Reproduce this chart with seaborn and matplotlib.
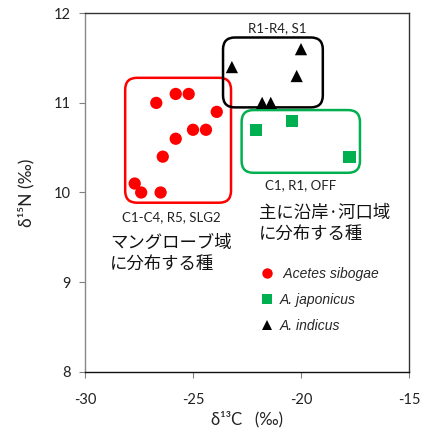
import matplotlib
matplotlib.use("Agg")
import matplotlib.pyplot as plt
from matplotlib.patches import FancyBboxPatch
from matplotlib.lines import Line2D
import seaborn as sns
import pandas as pd

# Stable isotope values (per mil) for each species
sibogae_c = [-26.7, -25.8, -25.2, -23.9, -25.0, -24.4, -25.8, -26.4, -27.7, -27.4, -26.5]
sibogae_n = [11.0, 11.1, 11.1, 10.9, 10.7, 10.7, 10.6, 10.4, 10.1, 10.0, 10.0]
japonicus_c = [-22.1, -20.4, -17.75]
japonicus_n = [10.7, 10.8, 10.4]
indicus_c = [-20.0, -23.2, -20.2, -21.8, -21.4]
indicus_n = [11.6, 11.4, 11.3, 11.0, 11.0]

species = ["Acetes sibogae", "A. japonicus", "A. indicus"]
colors = ["#FF0000", "#00B050", "#000000"]
markers = ["o", "s", "^"]

x_ticks = [-30, -25, -20, -15]
y_ticks = [8, 9, 10, 11, 12]

df = pd.DataFrame({
    "d13C": sibogae_c + japonicus_c + indicus_c,
    "d15N": sibogae_n + japonicus_n + indicus_n,
    "species": [species[0]] * len(sibogae_c) + [species[1]] * len(japonicus_c)
               + [species[2]] * len(indicus_c),
})

sns.set_theme(style="white")
plt.rcParams["font.family"] = ["Lato", "DejaVu Sans"]
plt.rcParams["axes.unicode_minus"] = False

fig = plt.figure(figsize=(4.24, 4.32), dpi=100)
ax = fig.add_axes([0.2005, 0.1396, 0.7641, 0.8296])

sns.scatterplot(data=df, x="d13C", y="d15N", hue="species", style="species",
                palette=dict(zip(species, colors)), markers=dict(zip(species, markers)),
                s=78, linewidth=0, legend=False, ax=ax, zorder=3)

ax.set_xlim(-30, -15)
ax.set_ylim(8, 12)
ax.set_xticks(x_ticks)
ax.set_yticks(y_ticks)
ax.set_xticklabels([str(v) for v in x_ticks])
ax.set_yticklabels([str(v) for v in y_ticks])
ax.tick_params(axis="both", direction="out", length=4, width=0.8, color="#808080",
               labelsize=10.5, labelcolor="#222222", bottom=True, left=True)
ax.tick_params(axis="x", pad=11)
ax.tick_params(axis="y", pad=6)

for side in ["top", "right"]:
    ax.spines[side].set_color("#333333")
    ax.spines[side].set_linewidth(1.0)
ax.spines["bottom"].set_color("#111111")
ax.spines["bottom"].set_linewidth(1.0)
ax.spines["left"].set_color("#888888")
ax.spines["left"].set_linewidth(1.0)

ax.set_xlabel("δ¹³C   (‰)", fontsize=12, color="#222222", labelpad=3)
ax.set_ylabel("δ¹⁵N (‰)", fontsize=12.5, color="#222222", labelpad=14)

# Rounded group outlines (radius expressed in x units, aspect maps it to y)
aspect = (4 / 358.4) / (15 / 324)
groups = [
    ((-28.14, 9.886), 4.90, 1.394, "#FF0000"),
    ((-23.61, 10.95), 4.62, 0.78, "#000000"),
    ((-22.75, 10.22), 5.48, 0.70, "#00B050"),
]
for (x0, y0), w, h, col in groups:
    ax.add_patch(FancyBboxPatch((x0, y0), w, h, boxstyle="round,pad=0,rounding_size=0.55",
                                mutation_aspect=aspect, fill=False, edgecolor=col,
                                linewidth=1.8, zorder=2))

site_kw = dict(fontsize=9.5, color="#222222", ha="center", va="center")
ax.text(-21.1, 11.83, "R1-R4, S1", **site_kw)
ax.text(-20.0, 10.08, "C1, R1, OFF", **site_kw)
ax.text(-26.0, 9.73, "C1-C4, R5, SLG2", **site_kw)

jp_kw = dict(fontsize=12.5, color="#111111", ha="left", va="center", linespacing=1.2,
             family=["Noto Sans CJK JP", "DejaVu Sans"])
ax.text(-28.85, 9.32, "マングローブ域\nに分布する種", **jp_kw)
ax.text(-21.95, 9.65, "主に沿岸·河口域\nに分布する種", **jp_kw)

handles = [Line2D([], [], linestyle="none", marker=m, color=c, markersize=7.5,
                  markeredgewidth=0) for m, c in zip(markers, colors)]
labels = [" " + species[0]] + species[1:]
ax.legend(handles, labels, loc="upper left", bbox_to_anchor=(0.546, 0.292),
          frameon=False, handlelength=0.8, handletextpad=0.5, labelspacing=0.85,
          borderpad=0, borderaxespad=0,
          prop={"family": "Liberation Sans", "style": "italic", "size": 10})

fig.savefig("out.png", dpi=100)
